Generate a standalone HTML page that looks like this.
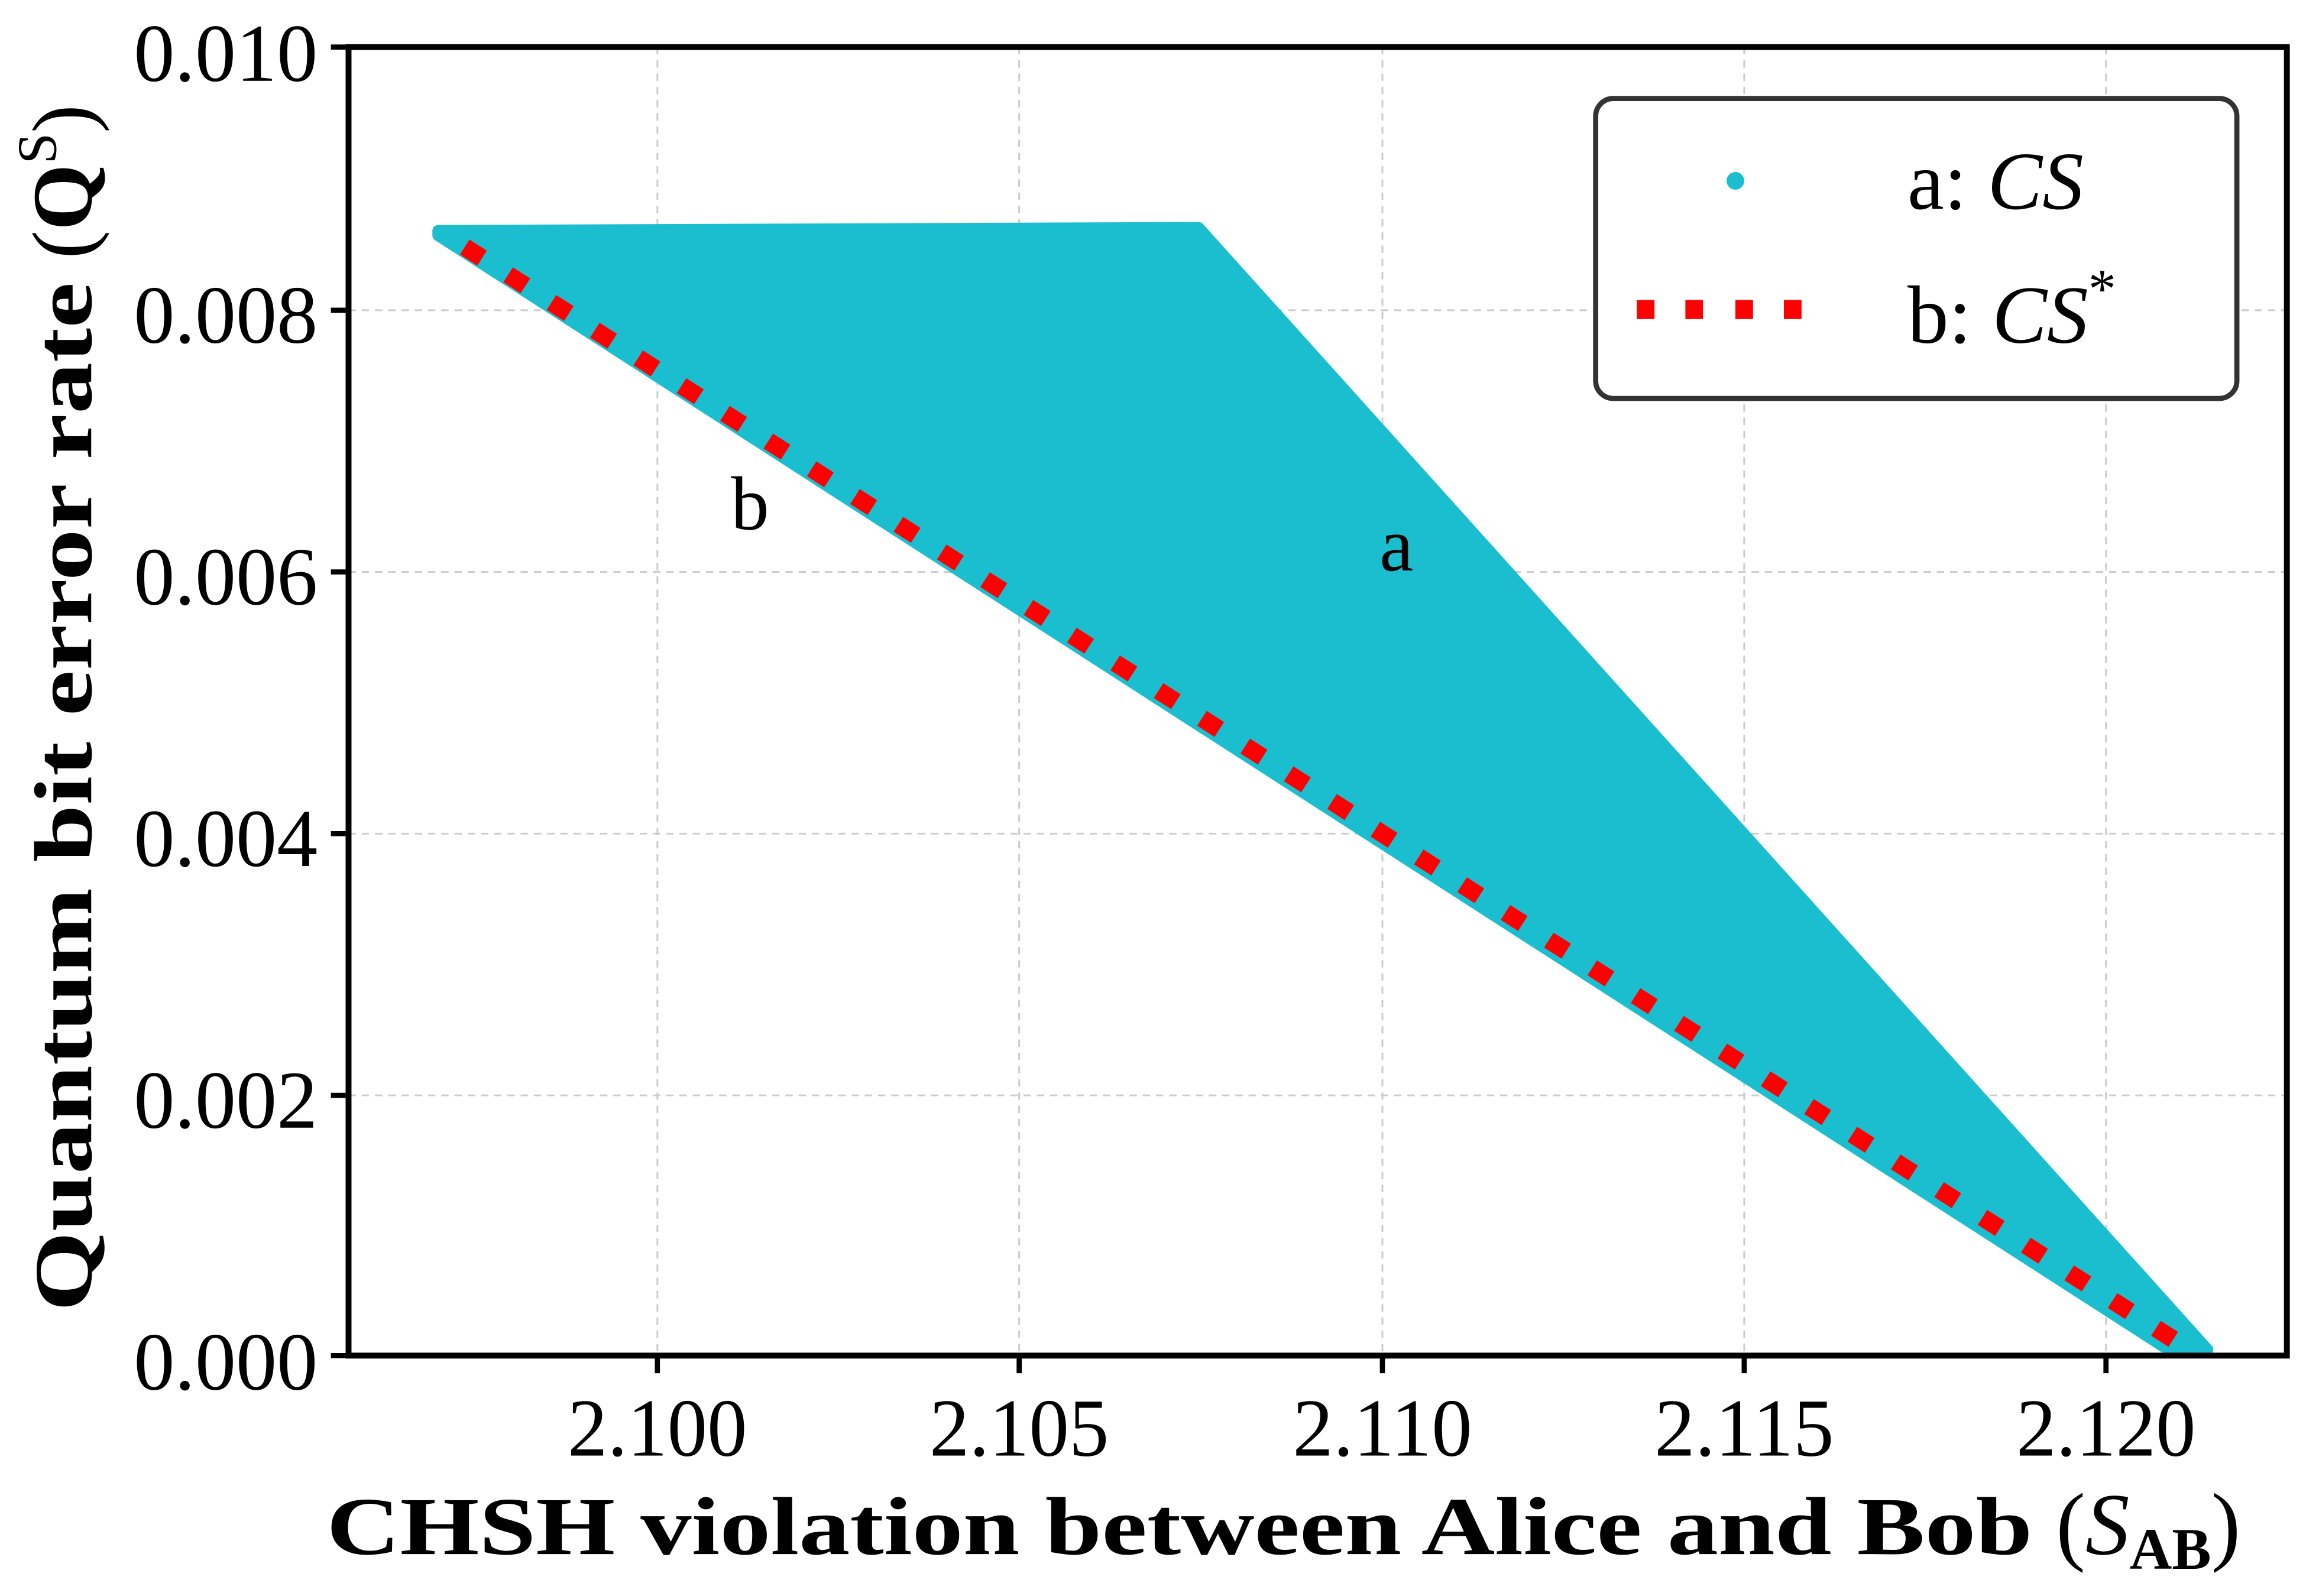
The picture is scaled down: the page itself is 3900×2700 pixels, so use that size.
<!DOCTYPE html>
<html><head><meta charset="utf-8"><style>html,body{margin:0;padding:0;background:#fff}svg{display:block}</style></head>
<body>
<svg width="3900" height="2700" viewBox="0 0 1568 1085.5" preserveAspectRatio="none" xmlns="http://www.w3.org/2000/svg" font-family="'Liberation Serif', serif">
<defs><clipPath id="ax"><rect x="237" y="32" width="1318" height="890"/></clipPath></defs>
<g stroke="#cccccc" stroke-width="1.2" stroke-dasharray="5,4">
<line x1="447" y1="32" x2="447" y2="922"/><line x1="693" y1="32" x2="693" y2="922"/><line x1="940" y1="32" x2="940" y2="922"/><line x1="1186" y1="32" x2="1186" y2="922"/><line x1="1432" y1="32" x2="1432" y2="922"/>
<line x1="237" y1="211" x2="1555" y2="211"/><line x1="237" y1="389" x2="1555" y2="389"/><line x1="237" y1="567" x2="1555" y2="567"/><line x1="237" y1="745" x2="1555" y2="745"/>
</g>
<g clip-path="url(#ax)">
<polygon points="298,157 815,155 1501,918 1487,926 298,160" fill="#1abece" stroke="#1abece" stroke-width="8" stroke-linejoin="round"/>
<line x1="316" y1="168" x2="1495" y2="922" stroke="#ff0000" stroke-width="12" stroke-dasharray="14,21"/>
</g>
<rect x="237" y="32" width="1318" height="890" fill="none" stroke="#000" stroke-width="4"/>
<g stroke="#000" stroke-width="3.5">
<line x1="447" y1="922" x2="447" y2="934"/><line x1="693" y1="922" x2="693" y2="934"/><line x1="940" y1="922" x2="940" y2="934"/><line x1="1186" y1="922" x2="1186" y2="934"/><line x1="1432" y1="922" x2="1432" y2="934"/>
<line x1="225" y1="32" x2="237" y2="32"/><line x1="225" y1="211" x2="237" y2="211"/><line x1="225" y1="389" x2="237" y2="389"/><line x1="225" y1="567" x2="237" y2="567"/><line x1="225" y1="745" x2="237" y2="745"/><line x1="225" y1="922" x2="237" y2="922"/>
</g>
<g font-size="56" text-anchor="middle">
<text x="447" y="990" textLength="122" lengthAdjust="spacingAndGlyphs">2.100</text>
<text x="693" y="990" textLength="122" lengthAdjust="spacingAndGlyphs">2.105</text>
<text x="940" y="990" textLength="122" lengthAdjust="spacingAndGlyphs">2.110</text>
<text x="1186" y="990" textLength="122" lengthAdjust="spacingAndGlyphs">2.115</text>
<text x="1432" y="990" textLength="122" lengthAdjust="spacingAndGlyphs">2.120</text>
</g>
<g font-size="56" text-anchor="end">
<text x="216" y="55" textLength="125" lengthAdjust="spacingAndGlyphs">0.010</text>
<text x="216" y="233" textLength="125" lengthAdjust="spacingAndGlyphs">0.008</text>
<text x="216" y="411" textLength="125" lengthAdjust="spacingAndGlyphs">0.006</text>
<text x="216" y="589" textLength="125" lengthAdjust="spacingAndGlyphs">0.004</text>
<text x="216" y="767" textLength="125" lengthAdjust="spacingAndGlyphs">0.002</text>
<text x="216" y="945" textLength="125" lengthAdjust="spacingAndGlyphs">0.000</text>
</g>
<text x="222" y="1057" font-size="56" font-weight="bold" textLength="1160" lengthAdjust="spacingAndGlyphs">CHSH violation between Alice and Bob</text>
<text x="1398" y="1057" font-size="60">(<tspan font-style="italic">S</tspan><tspan font-size="40" font-weight="bold" dy="10">AB</tspan><tspan dy="-10">)</tspan></text>
<g transform="translate(62,892) rotate(-90)">
<text x="0" y="0" font-size="56" font-weight="bold" textLength="700" lengthAdjust="spacingAndGlyphs">Quantum bit error rate</text>
<text x="716" y="0" font-size="58">(<tspan font-weight="bold">Q</tspan><tspan font-size="38" dy="-24">S</tspan><tspan dy="24">)</tspan></text>
</g>
<text x="497" y="360" font-size="52">b</text>
<text x="938" y="388" font-size="52">a</text>
<rect x="1085" y="67" width="436" height="204" rx="12" fill="#fff" stroke="#333" stroke-width="3.5"/>
<circle cx="1180" cy="123" r="6" fill="#1abece"/>
<g fill="#ff0000"><rect x="1113" y="204" width="12" height="13"/><rect x="1146" y="204" width="12" height="13"/><rect x="1180" y="204" width="12" height="13"/><rect x="1213" y="204" width="12" height="13"/></g>
<text x="1297" y="142" font-size="56">a: <tspan font-style="italic">CS</tspan></text>
<text x="1297" y="233" font-size="56">b: <tspan font-style="italic">CS</tspan><tspan font-size="38" dy="-24">*</tspan></text>
</svg>
</body></html>
